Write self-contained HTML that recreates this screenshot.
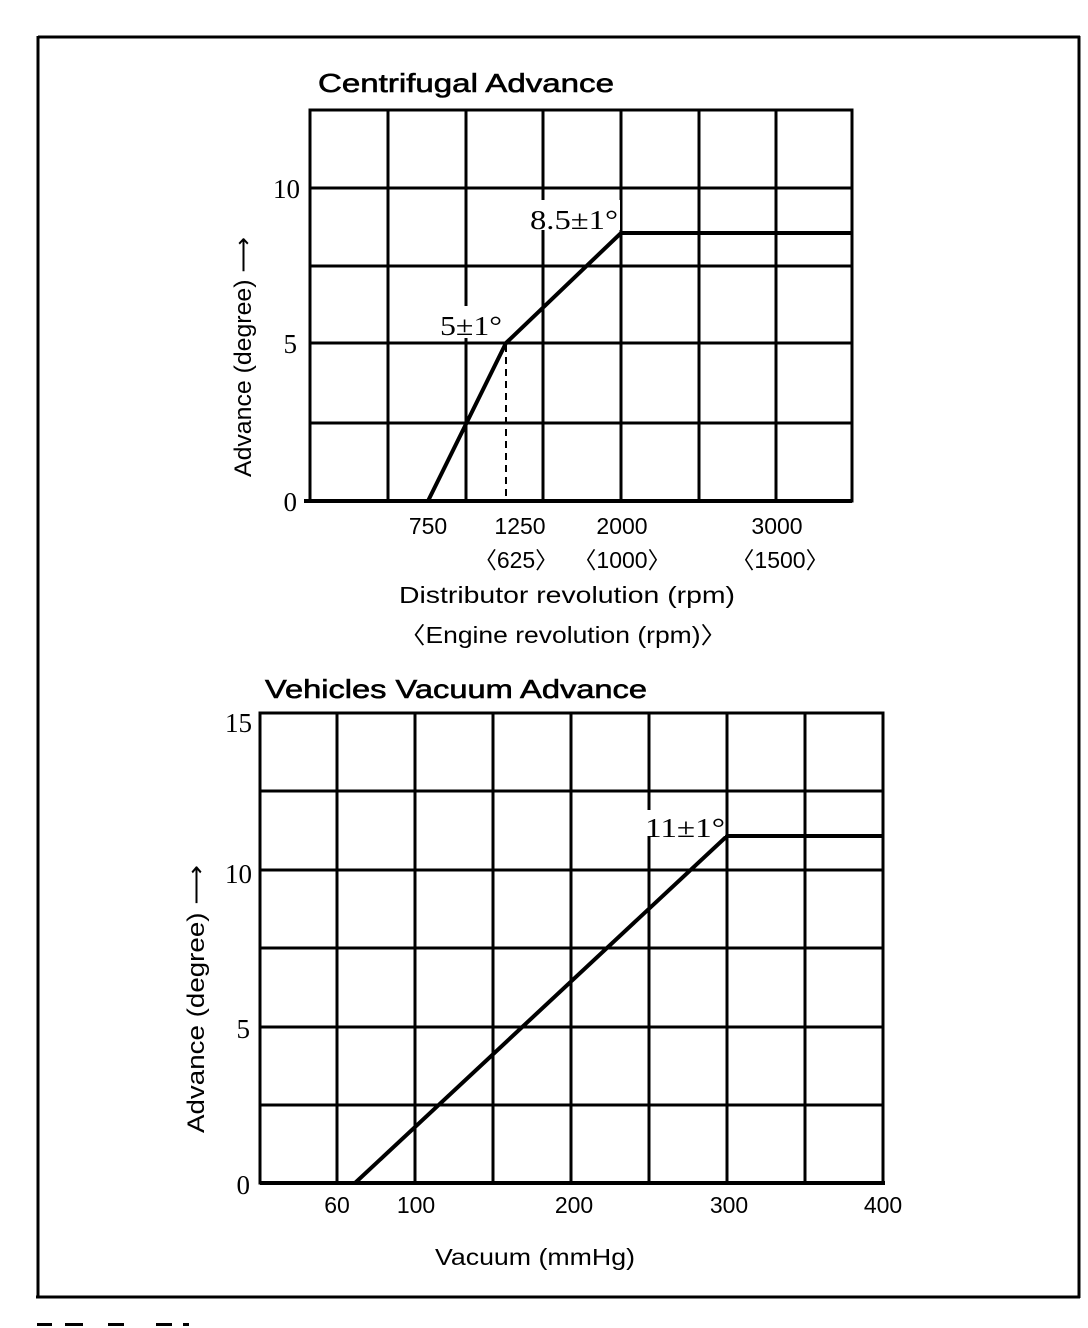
<!DOCTYPE html>
<html><head><style>
html,body{margin:0;padding:0;background:#fff;}
svg{display:block;}
.s{font-family:"Liberation Sans",sans-serif;fill:#000;}
.r{font-family:"Liberation Serif",serif;fill:#000;}
</style></head><body>
<svg width="1088" height="1328" viewBox="0 0 1088 1328" xmlns="http://www.w3.org/2000/svg">
<rect x="0" y="0" width="1088" height="1328" fill="#fff"/>
<path d="M38 37 H1080 M38 36 V1298 M1079 36 V1298 M36 1297 H1080" stroke="#000" stroke-width="3" fill="none"/>
<g fill="#000"><rect x="37" y="1323" width="15" height="3"/><rect x="65" y="1323" width="18" height="3"/><rect x="108" y="1323" width="16" height="3"/><rect x="156" y="1323" width="16" height="3"/><rect x="183" y="1323" width="6" height="3"/></g>

<!-- TOP CHART -->
<text x="318" y="92" class="s" font-size="26" stroke="#000" stroke-width="0.6" textLength="296" lengthAdjust="spacingAndGlyphs">Centrifugal Advance</text>
<g stroke="#000" stroke-width="3" fill="none">
<rect x="310" y="110" width="542" height="391"/>
<path d="M388 110V501 M466 110V501 M543 110V501 M621 110V501 M699 110V501 M776 110V501"/>
<path d="M310 188H852 M310 266H852 M310 343H852 M310 423H852"/>
</g>
<path d="M304 501H852" stroke="#000" stroke-width="4"/>
<path d="M428 501 L506 343 L621 233 L852 233" stroke="#000" stroke-width="4" fill="none"/>
<path d="M506 345 V501" stroke="#000" stroke-width="2" stroke-dasharray="7,5"/>
<rect x="530" y="200" width="90" height="30" fill="#fff"/>
<text x="530" y="229" class="r" font-size="27" textLength="88" lengthAdjust="spacingAndGlyphs">8.5±1°</text>
<rect x="440" y="306" width="64" height="32" fill="#fff"/>
<text x="440" y="335" class="r" font-size="27" textLength="62" lengthAdjust="spacingAndGlyphs">5±1°</text>
<g class="r" font-size="27" text-anchor="end">
<text x="300" y="198">10</text><text x="297" y="353">5</text><text x="297" y="511">0</text>
</g>
<text transform="translate(251 477) rotate(-90)" class="s" font-size="24" textLength="240" lengthAdjust="spacingAndGlyphs">Advance  (degree)  ⟶</text>
<g class="s" font-size="23" text-anchor="middle">
<text x="428" y="534">750</text><text x="520" y="534">1250</text><text x="622" y="534">2000</text><text x="777" y="534">3000</text>
<text x="516" y="568">〈625〉</text><text x="622" y="568">〈1000〉</text><text x="780" y="568">〈1500〉</text>
<text x="567" y="603" textLength="336" lengthAdjust="spacingAndGlyphs">Distributor  revolution  (rpm)</text>
<text x="563" y="643" textLength="328" lengthAdjust="spacingAndGlyphs">〈Engine  revolution  (rpm)〉</text>
</g>

<!-- BOTTOM CHART -->
<text x="265" y="698" class="s" font-size="26" stroke="#000" stroke-width="0.6" textLength="382" lengthAdjust="spacingAndGlyphs">Vehicles Vacuum Advance</text>
<g stroke="#000" stroke-width="3" fill="none">
<rect x="260" y="713" width="623" height="470"/>
<path d="M337 713V1183 M415 713V1183 M493 713V1183 M571 713V1183 M649 713V1183 M727 713V1183 M805 713V1183"/>
<path d="M260 791H883 M260 870H883 M260 948H883 M260 1027H883 M260 1105H883"/>
</g>
<path d="M260 1183H885" stroke="#000" stroke-width="4"/>
<path d="M355 1183 L727 836 L883 836" stroke="#000" stroke-width="4" fill="none"/>
<rect x="645" y="810" width="80" height="26" fill="#fff"/>
<text x="645" y="837" class="r" font-size="27" textLength="80" lengthAdjust="spacingAndGlyphs">11±1°</text>
<g class="r" font-size="27" text-anchor="end">
<text x="252" y="732">15</text><text x="252" y="883">10</text><text x="250" y="1038">5</text><text x="250" y="1194">0</text>
</g>
<text transform="translate(204 1133) rotate(-90)" class="s" font-size="24" textLength="268" lengthAdjust="spacingAndGlyphs">Advance  (degree)  ⟶</text>
<g class="s" font-size="23" text-anchor="middle">
<text x="337" y="1213">60</text><text x="416" y="1213">100</text><text x="574" y="1213">200</text><text x="729" y="1213">300</text><text x="883" y="1213">400</text>
<text x="535" y="1265" textLength="200" lengthAdjust="spacingAndGlyphs">Vacuum  (mmHg)</text>
</g>
</svg>
</body></html>
